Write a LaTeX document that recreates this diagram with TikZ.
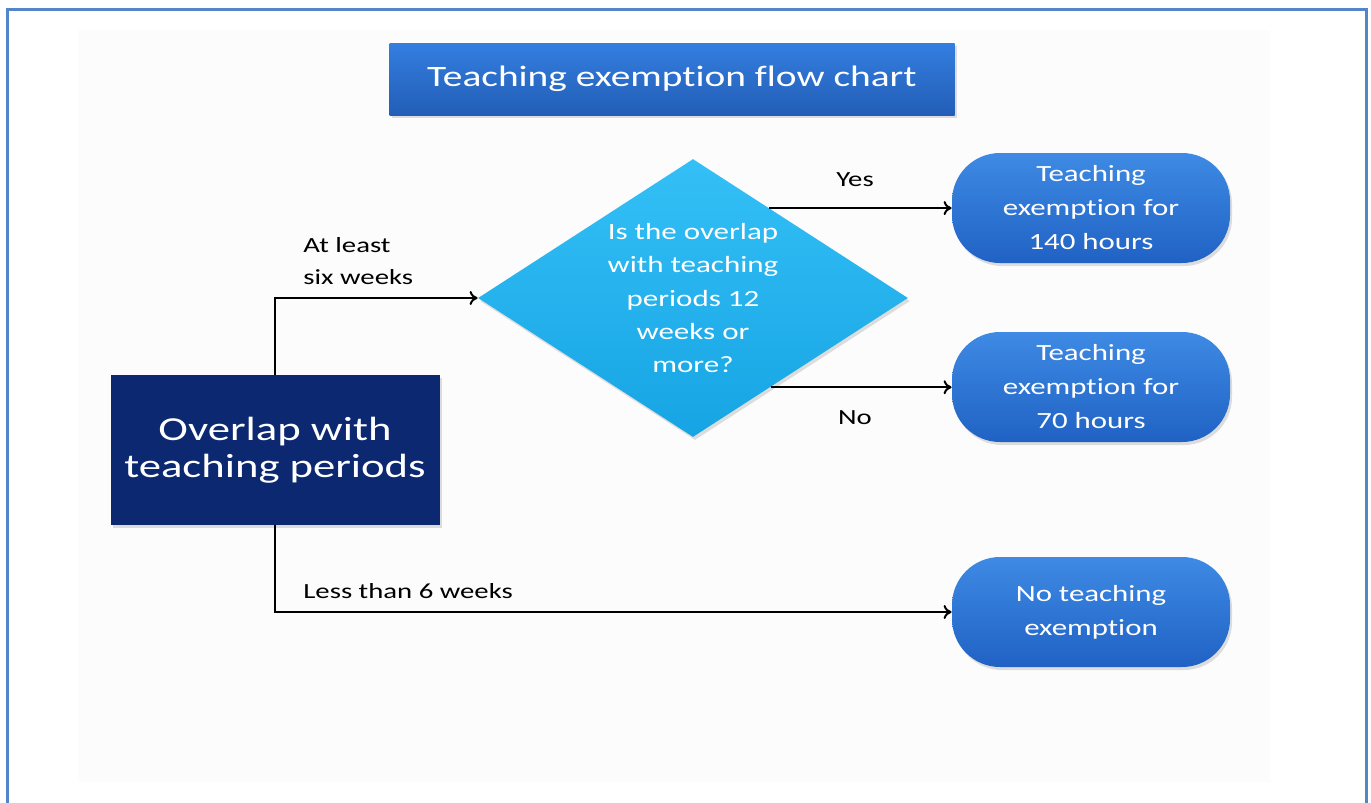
\documentclass[tikz,border=0pt]{standalone}
\usepackage{fontspec}
\setmainfont{Carlito}[FakeStretch=1.33,Ligatures=NoCommon,Contextuals=NoAlternate]
\usetikzlibrary{calc,shapes.geometric,shadows,arrows.meta}

\definecolor{framecol}{RGB}{84,133,200}
\definecolor{headtop}{RGB}{52,126,224}
\definecolor{headbot}{RGB}{34,94,182}
\definecolor{endtop}{RGB}{62,138,228}
\definecolor{endbot}{RGB}{32,98,196}
\definecolor{asktop}{RGB}{52,192,246}
\definecolor{askbot}{RGB}{22,164,228}
\definecolor{navy}{RGB}{12,40,112}

\tikzset{
	boxshadow/.style={drop shadow={opacity=0.25,shadow xshift=1pt,shadow yshift=-1.5pt}},
	headbox/.style={rectangle,top color=headtop,bottom color=headbot,text=white,
		minimum width=282.5pt,minimum height=36pt,boxshadow,
		font=\fontsize{14.8}{17}\selectfont},
	startbox/.style={rectangle,fill=navy,text=white,align=center,
		minimum width=164.5pt,minimum height=75pt,boxshadow,
		font=\fontsize{16.8}{18.3}\selectfont},
	askbox/.style={diamond,aspect=1.55,inner sep=0pt,top color=asktop,bottom color=askbot,
		text=white,align=center,minimum width=215pt,minimum height=139pt,boxshadow,
		font=\fontsize{11.65}{16.7}\selectfont},
	endbox/.style={rectangle,rounded corners=24pt,top color=endtop,bottom color=endbot,
		text=white,align=center,minimum width=139pt,minimum height=55pt,inner sep=2pt,boxshadow,
		font=\fontsize{11.6}{17}\selectfont},
	lbl/.style={align=left,inner sep=0pt,font=\fontsize{10.8}{16}\selectfont},
	arr/.style={-{To[length=4pt,width=7pt]},line width=1pt},
}

\begin{document}
\begin{tikzpicture}[x=0.5pt,y=-0.5pt]
	\useasboundingbox (0,0) rectangle (1371,803);
	% page background and frame
	\fill[black!1.2] (78,30) rectangle (1270,782);
	\draw[framecol,line width=1.5pt] (7,803) -- (7,9) -- (1366,9) -- (1366,803);

	\node (title) at (672,79) [headbox] {Teaching exemption flow chart};
	\node (overlap) at (275,450) [startbox] {Overlap with\\teaching periods};
	\node (q) at (693,298) [askbox] {Is the overlap\\with teaching\\periods 12\\weeks or\\more?};
	\node (r140) at (1091,208) [endbox] {Teaching\\exemption for\\140 hours};
	\node (r70) at (1091,387) [endbox] {Teaching\\exemption for\\70 hours};
	\node (rnone) at (1091,612) [endbox] {No teaching\\exemption};

	\coordinate (qyes) at ($(q.north)!0.355!(q.east)$);
	\coordinate (qno) at ($(q.south)!0.36!(q.east)$);

	\draw[arr] (overlap.north) |- (q.west);
	\draw[arr] (overlap.south) |- (rnone.west);
	\draw[arr] (qyes) -- (qyes -| r140.west);
	\draw[arr] (qno) -- (qno -| r70.west);

	\node (sixlbl) at (303,261) [lbl,anchor=west] {At least\\six weeks};
	\node (lesslbl) at (303,591) [lbl,anchor=west] {Less than 6 weeks};
	\node (yeslbl) at (855,180) [lbl] {Yes};
	\node (nolbl) at (855,418) [lbl] {No};
\end{tikzpicture}
\end{document}
